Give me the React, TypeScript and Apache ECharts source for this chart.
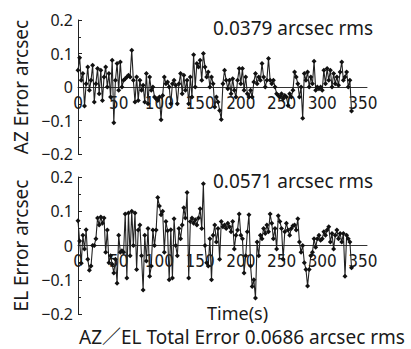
import React, { useEffect, useRef } from "react";
import * as echarts from "echarts";

// sampling step of the error record, seconds
const SAMPLE_STEP_S = 2;

// AZ error (arcsec), t = 0, 2, 4, ... s
const AZ_ERROR = [
  0.05, 0.087, 0.02, 0.04, -0.057, 0.01, 0.06, -0.01, 0.02, 0.065,
  -0.045, 0.01, 0.055, -0.02, 0.05, -0.04, 0.03, 0.06, 0.0, 0.04,
  -0.03, 0.08, -0.107, 0.02, 0.07, -0.01, 0.075, 0.0, 0.02, 0.025,
  0.03, 0.035, 0.03, 0.11, 0.02, -0.045, 0.03, -0.04, 0.02, -0.01,
  0.005, -0.045, 0.04, -0.05, 0.03, -0.01, 0.0, -0.03, -0.035, -0.04,
  -0.03, -0.098, -0.025, 0.03, 0.01, 0.015, 0.0, -0.05, 0.01, 0.02,
  0.005, -0.05, 0.01, 0.04, -0.02, 0.035, -0.01, 0.02, -0.05, 0.03,
  -0.03, 0.096, 0.0, 0.07, 0.06, 0.08, 0.02, 0.1, 0.06, 0.03,
  0.045, 0.0, 0.03, 0.01, -0.06, -0.03, -0.045, -0.07, -0.097, 0.01,
  0.05, 0.02, -0.005, 0.02, -0.02, 0.025, -0.01, -0.03, 0.02, 0.055,
  0.01, 0.055, -0.01, 0.03, -0.02, -0.03, -0.01, -0.03, 0.015, 0.04,
  0.01, 0.03, 0.02, 0.07, 0.03, 0.0, 0.02, 0.085, 0.02, 0.01,
  0.02, 0.0, -0.02, -0.025, -0.03, -0.02, -0.035, -0.025, -0.03, -0.055,
  -0.02, -0.03, -0.01, 0.045, 0.03, 0.01, -0.03, 0.0, -0.093, 0.04,
  0.02, 0.045, 0.0, 0.03, 0.01, 0.077, -0.01, 0.0, -0.005, 0.0,
  -0.01, 0.05, 0.01, 0.055, 0.02, 0.05, 0.0, 0.04, 0.01, 0.03,
  0.005, 0.045, 0.075, 0.02, 0.03, 0.045, 0.0, 0.02, -0.072,
];

// EL error (arcsec), t = 0, 2, 4, ... s
const EL_ERROR = [
  0.072, 0.013, -0.052, 0.03, -0.01, 0.046, -0.04, -0.072, -0.06, 0.0,
  0.0, 0.02, 0.08, 0.06, 0.083, 0.065, 0.08, -0.02, 0.045, -0.05,
  -0.03, -0.055, -0.08, -0.04, -0.11, 0.03, -0.02, -0.015, -0.02, 0.092,
  -0.095, 0.095, -0.03, 0.1, 0.0, 0.095, -0.07, 0.045, 0.06, -0.03,
  -0.13, 0.03, -0.045, 0.05, -0.09, -0.06, 0.045, 0.0, 0.045, 0.14,
  0.115, 0.09, 0.1, -0.02, 0.07, 0.043, -0.1, 0.046, -0.095, 0.078,
  0.0, -0.03, 0.05, 0.02, 0.06, 0.11, 0.08, 0.155, -0.095, 0.07,
  0.08, 0.065, 0.075, 0.06, 0.08, 0.107, 0.05, 0.18, 0.0, -0.05,
  -0.06, 0.02, -0.1, 0.03, 0.06, 0.01, 0.05, -0.04, 0.07, 0.055,
  0.06, 0.05, 0.065, 0.055, 0.04, 0.07, -0.01, 0.03, 0.045, 0.092,
  0.03, 0.02, -0.08, -0.03, 0.04, 0.09, -0.06, -0.12, -0.1, -0.153,
  0.01, -0.03, 0.03, 0.02, 0.05, 0.035, 0.06, 0.04, 0.092, 0.065,
  0.02, 0.05, -0.01, 0.087, 0.07, 0.05, -0.04, 0.04, 0.065, 0.045,
  0.03, 0.05, 0.058, 0.06, 0.045, 0.078, 0.01, -0.02, 0.0, -0.05,
  -0.07, -0.118, -0.07, -0.03, -0.02, 0.02, -0.005, 0.02, 0.03, 0.015,
  0.02, 0.04, 0.03, 0.045, 0.055, 0.01, 0.035, -0.01, 0.03, 0.045,
  0.02, 0.035, 0.01, 0.035, -0.09, 0.03, 0.02, 0.01, -0.065,
];

const X_MAX = 355;
const X_INTERVAL = 50;
const Y_MIN = -0.2;
const Y_MAX = 0.2;
const Y_INTERVAL = 0.1;

const AZ_NAME = "AZ Error arcsec";
const EL_NAME = "EL Error arcsec";
const AZ_RMS_LABEL = "0.0379 arcsec rms";
const EL_RMS_LABEL = "0.0571 arcsec rms";
const X_NAME = "Time(s)";
const TOTAL_LABEL = "AZ／EL Total Error 0.0686 arcsec rms";

const FONT = "'Noto Sans', 'Noto Sans CJK JP', sans-serif";
const NARROW = "'Liberation Sans Narrow', 'DejaVu Sans Condensed', 'Noto Sans', sans-serif";
const INK = "#1a1a1a";

const GRIDS = [
  { left: 78, top: 20, width: 289, height: 134 },
  { left: 78, top: 177, width: 289, height: 137 },
];

function toPairs(values: number[]) {
  return values.map((v, i) => [i * SAMPLE_STEP_S, v]);
}

function yLabel(v: number) {
  if (Math.abs(v) < 1e-9) return "0";
  const s = Math.abs(v).toFixed(1);
  return v < 0 ? "−" + s : s;
}

function makeXAxis(gridIndex: number) {
  // place the time axis on the zero line of its panel (middle of the value range)
  const h = GRIDS[gridIndex].height;
  return {
    type: "value",
    gridIndex,
    min: 0,
    max: X_MAX,
    interval: X_INTERVAL,
    position: "bottom",
    offset: -h * ((0 - Y_MIN) / (Y_MAX - Y_MIN)),
    axisLine: { onZero: false, lineStyle: { color: "#333", width: 1 } },
    axisTick: { show: false },
    splitLine: { show: false },
    axisLabel: {
      color: INK,
      fontFamily: NARROW,
      fontSize: 17,
      margin: 7,
      formatter: (v: number) => (v % X_INTERVAL === 0 ? String(v) : ""),
    },
  };
}

function makeYAxis(gridIndex: number, name: string) {
  return {
    type: "value",
    gridIndex,
    min: Y_MIN,
    max: Y_MAX,
    interval: Y_INTERVAL,
    name,
    nameLocation: "middle",
    nameGap: 41,
    nameTextStyle: { color: INK, fontFamily: FONT, fontSize: 19 },
    axisLine: { show: true, onZero: false, lineStyle: { color: "#222", width: 1 } },
    axisTick: { show: true, inside: true, length: 4, lineStyle: { color: "#222" } },
    minorTick: { show: true, splitNumber: 2, length: 3, lineStyle: { color: "#222" } },
    splitLine: { show: false },
    axisLabel: {
      color: INK,
      fontFamily: FONT,
      fontSize: 16,
      lineHeight: 16,
      margin: 5,
      formatter: yLabel,
    },
  };
}

function makeSeries(values: number[], idx: number) {
  return {
    type: "line",
    xAxisIndex: idx,
    yAxisIndex: idx,
    data: toPairs(values),
    symbol: "diamond",
    symbolSize: 5,
    itemStyle: { color: "#111" },
    lineStyle: { color: "#222", width: 1.1 },
    silent: true,
  };
}

export default function App() {
  const ref = useRef<HTMLDivElement>(null);
  useEffect(() => {
    if (!ref.current) return;
    const chart = echarts.init(ref.current, undefined, { renderer: "svg" });
    chart.setOption({
      animation: false,
      backgroundColor: "#ffffff",
      grid: GRIDS,
      xAxis: [makeXAxis(0), makeXAxis(1)],
      yAxis: [makeYAxis(0, AZ_NAME), makeYAxis(1, EL_NAME)],
      series: [makeSeries(AZ_ERROR, 0), makeSeries(EL_ERROR, 1)],
      graphic: [
        {
          type: "text",
          left: 213,
          top: 18,
          style: { text: AZ_RMS_LABEL, fill: INK, font: `19px ${FONT}` },
        },
        {
          type: "text",
          left: 213,
          top: 171,
          style: { text: EL_RMS_LABEL, fill: INK, font: `19px ${FONT}` },
        },
        {
          type: "text",
          left: 207,
          top: 304,
          style: { text: X_NAME, fill: INK, font: `18px ${FONT}` },
        },
        {
          type: "text",
          left: 79,
          top: 327,
          style: { text: TOTAL_LABEL, fill: INK, font: `19px ${FONT}` },
        },
      ],
    });
    return () => chart.dispose();
  }, []);
  return (
    <div
      ref={ref}
      style={{ position: "fixed", left: 0, top: 0, width: 411, height: 349, background: "#fff" }}
    />
  );
}
